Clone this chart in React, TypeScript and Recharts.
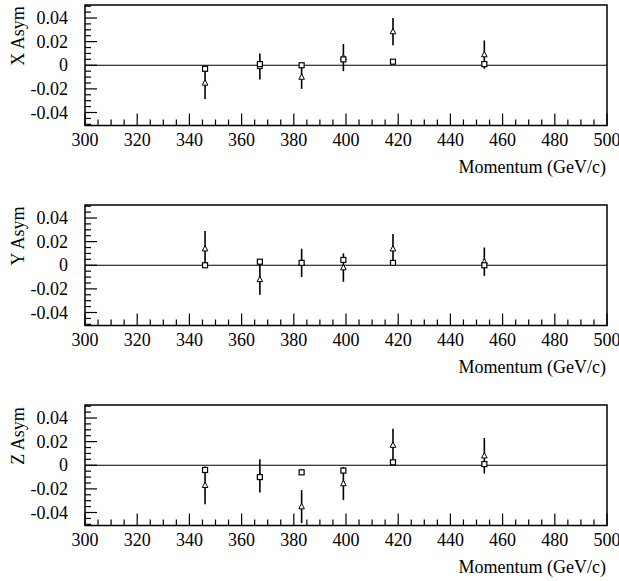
import React from 'react';
import { ScatterChart, Scatter, XAxis, YAxis, ErrorBar, ReferenceLine, ReferenceArea } from 'recharts';

const momentum = [346, 367, 383, 399, 418, 453];

const xSquares = [-0.003, 0.001, 0.0, 0.005, 0.003, 0.001];
const xTriangles = [-0.015, -0.001, -0.01, 0.0065, 0.0285, 0.009];
const xErrors = [0.0135, 0.011, 0.01, 0.0115, 0.0115, 0.012];

const ySquares = [0.0, 0.003, 0.002, 0.0045, 0.002, 0.0];
const yTriangles = [0.014, -0.012, 0.002, -0.002, 0.014, 0.003];
const yErrors = [0.015, 0.013, 0.012, 0.012, 0.0125, 0.012];

const zSquares = [-0.004, -0.01, -0.006, -0.0045, 0.0025, 0.001];
const zTriangles = [-0.017, -0.009, -0.035, -0.0155, 0.017, 0.008];
const zErrors = [0.016, 0.014, 0.014, 0.014, 0.014, 0.015];

const panelTitles = ['X Asym', 'Y Asym', 'Z Asym'];
const xTitle = 'Momentum (GeV/c)';

const xTicks = [
  300, 305, 310, 315, 320, 325, 330, 335, 340, 345, 350, 355, 360, 365, 370, 375, 380, 385, 390, 395,
  400, 405, 410, 415, 420, 425, 430, 435, 440, 445, 450, 455, 460, 465, 470, 475, 480, 485, 490, 495, 500,
];
const xLabelTicks = [300, 320, 340, 360, 380, 400, 420, 440, 460, 480, 500];
const yTicks = [
  -0.05, -0.045, -0.04, -0.035, -0.03, -0.025, -0.02, -0.015, -0.01, -0.005, 0,
  0.005, 0.01, 0.015, 0.02, 0.025, 0.03, 0.035, 0.04, 0.045, 0.05,
];
const yLabelTicks = [-0.04, -0.02, 0, 0.02, 0.04];
const yTickLabels = ['-0.04', '-0.02', '0', '0.02', '0.04'];

const FONT = '"Liberation Serif", "Times New Roman", serif';
const X_DOMAIN: [number, number] = [300, 500];
const Y_DOMAIN: [number, number] = [-0.051, 0.051];

const XTick = (props: any) => {
  const { x, y, payload } = props;
  const v = payload.value;
  const major = xLabelTicks.includes(v);
  return (
    <g>
      <line x1={x} x2={x} y1={y} y2={y - (major ? 12 : 6)} stroke="#000" strokeWidth={1.2} />
      {major && (
        <text x={x} y={y + 20} textAnchor="middle" fontFamily={FONT} fontSize={18} fill="#000">
          {v}
        </text>
      )}
    </g>
  );
};

const YTick = (props: any) => {
  const { x, y, payload } = props;
  const v = payload.value;
  const idx = yLabelTicks.findIndex((t) => Math.abs(t - v) < 1e-9);
  const major = idx >= 0;
  return (
    <g>
      <line x1={x} x2={x + (major ? 12 : 6)} y1={y} y2={y} stroke="#000" strokeWidth={1.2} />
      {major && (
        <text x={x - 17} y={y + 6} textAnchor="end" fontFamily={FONT} fontSize={18} fill="#000">
          {yTickLabels[idx]}
        </text>
      )}
    </g>
  );
};

const SquareShape = (props: any) => {
  const { cx, cy } = props;
  return <rect x={cx - 2.5} y={cy - 2.5} width={5} height={5} fill="#fff" stroke="#000" strokeWidth={1.2} />;
};

const TriangleShape = (props: any) => {
  const { cx, cy } = props;
  return (
    <polygon
      points={`${cx},${cy - 3.2} ${cx - 2.8},${cy + 2.2} ${cx + 2.8},${cy + 2.2}`}
      fill="#fff"
      stroke="#000"
      strokeWidth={1}
    />
  );
};

type PanelProps = { title: string; squares: number[]; triangles: number[]; errors: number[]; top: number };

const Panel = ({ title, squares, triangles, errors, top }: PanelProps) => {
  const sqData = momentum.map((m, i) => ({ m, v: squares[i] }));
  const triData = momentum.map((m, i) => ({ m, v: triangles[i], err: errors[i] }));
  return (
    <div style={{ position: 'absolute', left: 0, top, width: 619, height: 200 }}>
      <ScatterChart width={619} height={200} margin={{ top: 5, right: 12, bottom: 73.5, left: 0 }}>
        <XAxis
          type="number"
          dataKey="m"
          domain={X_DOMAIN}
          ticks={xTicks}
          interval={0}
          allowDataOverflow
          axisLine={false}
          tickLine={false}
          tickSize={0}
          tickMargin={0}
          height={1}
          tick={<XTick />}
          label={(p: any) => (
            <text x={606} y={173} textAnchor="end" fontFamily={FONT} fontSize={18} fill="#000">
              {xTitle}
            </text>
          )}
        />
        <YAxis
          type="number"
          dataKey="v"
          domain={Y_DOMAIN}
          ticks={yTicks}
          interval={0}
          allowDataOverflow
          axisLine={false}
          tickLine={false}
          tickSize={0}
          tickMargin={0}
          width={85}
          tick={<YTick />}
          label={(p: any) => (
            <text
              x={24}
              y={36}
              transform="rotate(-90 24 36)"
              textAnchor="middle"
              fontFamily={FONT}
              fontSize={18}
              fill="#000"
            >
              {title}
            </text>
          )}
        />
        <ReferenceArea
          x1={X_DOMAIN[0]}
          x2={X_DOMAIN[1]}
          y1={Y_DOMAIN[0]}
          y2={Y_DOMAIN[1]}
          fill="none"
          fillOpacity={0}
          stroke="#000"
          strokeWidth={1.5}
          ifOverflow="visible"
        />
        <ReferenceLine y={0} stroke="#000" strokeWidth={1.2} />
        <Scatter data={triData} shape={<TriangleShape />} isAnimationActive={false}>
          <ErrorBar dataKey="err" direction="y" width={0} stroke="#000" strokeWidth={1.6} />
        </Scatter>
        <Scatter data={sqData} shape={<SquareShape />} isAnimationActive={false} />
      </ScatterChart>
    </div>
  );
};

export default function App() {
  return (
    <div style={{ position: 'absolute', left: 0, top: 0, width: 619, height: 581, overflow: 'hidden', background: '#fff' }}>
      <Panel title={panelTitles[0]} squares={xSquares} triangles={xTriangles} errors={xErrors} top={0} />
      <Panel title={panelTitles[1]} squares={ySquares} triangles={yTriangles} errors={yErrors} top={200} />
      <Panel title={panelTitles[2]} squares={zSquares} triangles={zTriangles} errors={zErrors} top={400} />
    </div>
  );
}
